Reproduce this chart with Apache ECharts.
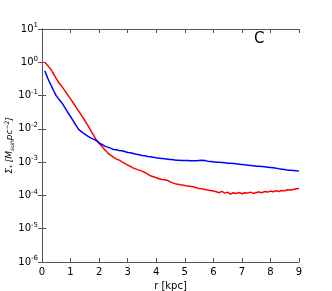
<!DOCTYPE html>
<html><head><meta charset="utf-8">
<script src="https://cdn.jsdelivr.net/npm/echarts@6/dist/echarts.min.js"></script>
<style>html,body{margin:0;padding:0;background:#fff}#c{width:332px;height:291px}</style>
</head><body><div id="c"></div>
<script>
// radius (kpc)
const radius = [0.1,0.2,0.3,0.4,0.5,0.6,0.7,0.8,0.9,1.0,1.1,1.2,1.3,1.4,1.5,1.6,1.7,1.8,1.9,2.0,2.1,2.2,2.3,2.4,2.5,2.6,2.7,2.8,2.9,3.0,3.1,3.2,3.3,3.4,3.5,3.6,3.7,3.8,3.9,4.0,4.1,4.2,4.3,4.4,4.5,4.6,4.7,4.8,4.9,5.0,5.1,5.2,5.3,5.4,5.5,5.6,5.7,5.8,5.9,6.0,6.1,6.2,6.3,6.4,6.5,6.6,6.7,6.8,6.9,7.0,7.1,7.2,7.3,7.4,7.5,7.6,7.7,7.8,7.9,8.0,8.1,8.2,8.3,8.4,8.5,8.6,8.7,8.8,8.9,9.0];
// log10 of surface density
const redExp = [0.00,-0.10,-0.20,-0.34,-0.49,-0.63,-0.73,-0.85,-0.98,-1.10,-1.23,-1.36,-1.49,-1.62,-1.75,-1.89,-2.04,-2.18,-2.33,-2.43,-2.53,-2.63,-2.72,-2.79,-2.85,-2.90,-2.94,-2.99,-3.04,-3.09,-3.13,-3.18,-3.21,-3.24,-3.27,-3.31,-3.36,-3.41,-3.44,-3.47,-3.50,-3.52,-3.53,-3.55,-3.60,-3.63,-3.66,-3.67,-3.69,-3.70,-3.72,-3.73,-3.74,-3.77,-3.79,-3.80,-3.82,-3.84,-3.85,-3.87,-3.89,-3.92,-3.88,-3.93,-3.90,-3.96,-3.92,-3.94,-3.91,-3.95,-3.92,-3.93,-3.90,-3.94,-3.91,-3.90,-3.92,-3.88,-3.90,-3.87,-3.89,-3.86,-3.88,-3.85,-3.86,-3.83,-3.84,-3.82,-3.80,-3.79];
const blueExp = [-0.26,-0.48,-0.66,-0.84,-1.01,-1.12,-1.22,-1.36,-1.50,-1.63,-1.77,-1.91,-2.03,-2.10,-2.16,-2.22,-2.27,-2.31,-2.35,-2.42,-2.47,-2.52,-2.55,-2.58,-2.62,-2.63,-2.65,-2.66,-2.68,-2.71,-2.72,-2.74,-2.76,-2.78,-2.80,-2.81,-2.83,-2.84,-2.85,-2.87,-2.88,-2.89,-2.90,-2.91,-2.92,-2.93,-2.94,-2.94,-2.95,-2.95,-2.95,-2.96,-2.96,-2.96,-2.95,-2.94,-2.95,-2.97,-2.98,-2.99,-3.00,-3.00,-3.01,-3.02,-3.03,-3.03,-3.04,-3.05,-3.06,-3.07,-3.08,-3.09,-3.10,-3.11,-3.12,-3.12,-3.13,-3.14,-3.15,-3.16,-3.17,-3.18,-3.20,-3.21,-3.22,-3.24,-3.24,-3.25,-3.26,-3.27];
const xTicks = [0,1,2,3,4,5,6,7,8,9];
const panelLabel = 'C';

const redData = radius.map((r,i)=>[r, Math.pow(10, redExp[i])]);
const blueData = radius.map((r,i)=>[r, Math.pow(10, blueExp[i])]);

const axisCol = '#555';
const font = 'DejaVu Sans';
const chart = echarts.init(document.getElementById('c'));
const xBase = {type:'value', min:0, max:9, interval:1,
  axisLine:{lineStyle:{color:axisCol,width:1}},
  axisTick:{inside:true,length:4,lineStyle:{color:axisCol}},
  splitLine:{show:false}};
const yBase = {type:'log', logBase:10, min:1e-6, max:10,
  axisLine:{lineStyle:{color:axisCol,width:1}},
  axisTick:{inside:true,length:4,lineStyle:{color:axisCol}},
  splitLine:{show:false}};
chart.setOption({
  animation:false,
  grid:{left:42,right:33,top:29,bottom:29,containLabel:false,outerBoundsMode:'none'},
  graphic:[{type:'text',left:254,top:32,style:{text:panelLabel,font:'15px "DejaVu Sans"',fill:'#000'}}],
  xAxis:[
    Object.assign({}, xBase, {position:'bottom', name:'r [kpc]', nameLocation:'middle', nameGap:19, nameMoveOverlap:false,
      nameTextStyle:{fontFamily:font,fontSize:10,color:'#000'},
      axisLabel:{fontFamily:font,fontSize:10,color:'#000',margin:5}}),
    Object.assign({}, xBase, {position:'top', axisLabel:{show:false}})
  ],
  yAxis:[
    Object.assign({}, yBase, {position:'left',
      name:'{it|Σ}{sub|*}{it| [M}{sub|sun}{it|pc}{sup|−2}{it|]}', nameLocation:'middle', nameGap:27, nameRotate:90, nameMoveOverlap:false,
      nameTextStyle:{fontFamily:font,fontSize:9,color:'#000',
        rich:{it:{fontFamily:font,fontSize:9,fontStyle:'italic',color:'#000'},
              sub:{fontFamily:font,fontSize:6,fontStyle:'italic',color:'#000',verticalAlign:'bottom',padding:[4,0,0,0]},
              sup:{fontFamily:font,fontSize:6,fontStyle:'italic',color:'#000',verticalAlign:'top',padding:[0,0,5,0]}}},
      axisLabel:{margin:4,color:'#000',fontFamily:font,
        formatter:function(v){const e=Math.round(Math.log10(v));return '{b|10}{s|'+e+'}';},
        rich:{b:{fontFamily:font,fontSize:10,color:'#000'},
              s:{fontFamily:font,fontSize:7,color:'#000',verticalAlign:'top',padding:[0,0,7,0]}}}}),
    Object.assign({}, yBase, {position:'right', axisLabel:{show:false}})
  ],
  series:[
    {type:'line', name:'red', data:redData, showSymbol:false, lineStyle:{color:'#ff0000',width:1.5}, itemStyle:{color:'#ff0000'}, z:2},
    {type:'line', name:'blue', data:blueData, showSymbol:false, lineStyle:{color:'#0000ff',width:1.5}, itemStyle:{color:'#0000ff'}, z:3}
  ]
});
</script></body></html>
